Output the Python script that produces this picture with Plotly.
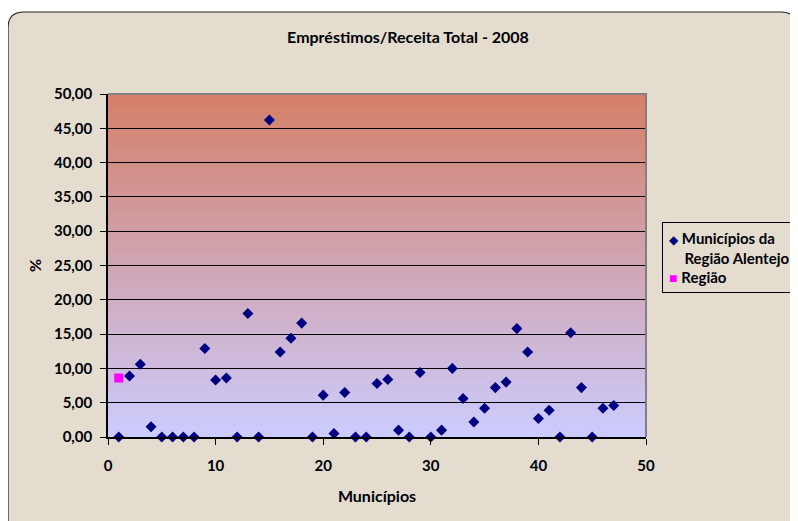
import plotly.graph_objects as go

# Empréstimos / Receita Total (%) por município, 2008
municipios = list(range(1, 48))
valores = [0.0, 8.9, 10.6, 1.5, 0.0, 0.0, 0.0, 0.0, 12.9, 8.3,
           8.6, 0.0, 18.0, 0.0, 46.2, 12.4, 14.4, 16.6, 0.0, 6.1,
           0.5, 6.5, 0.0, 0.0, 7.8, 8.4, 1.0, 0.0, 9.4, 0.0,
           1.0, 10.0, 5.6, 2.2, 4.2, 7.2, 8.0, 15.8, 12.4, 2.7,
           3.9, 0.0, 15.2, 7.2, 0.0, 4.2, 4.6]
regiao_x = [1]
regiao_y = [8.6]

x_ticks = [0, 10, 20, 30, 40, 50]
y_ticks = [0, 5, 10, 15, 20, 25, 30, 35, 40, 45, 50]

FONT = "Lato"
W, H = 798, 521
OFF = 8  # page body margin
# plot area in page pixels: x 108..646, y 94..437
L, T = 108 - OFF, 94 - OFF
PW, PH = 538, 343
R, B = W - L - PW, H - T - PH


def px(x):
    # page pixel -> paper x
    return (x - 108) / PW


def py(y):
    # page pixel -> paper y
    return (437 - y) / PH


fig = go.Figure()

fig.add_trace(go.Scatter(
    x=municipios, y=valores, mode="markers",
    marker=dict(symbol="diamond", size=8.5, color="#000080", line=dict(width=0)),
    name="Municípios da Região Alentejo", showlegend=False, cliponaxis=False))
fig.add_trace(go.Scatter(
    x=regiao_x, y=regiao_y, mode="markers",
    marker=dict(symbol="square", size=9, color="#ff00ff", line=dict(width=0)),
    name="Região", showlegend=False, cliponaxis=False))

shapes = []
# outer rounded frame of the chart
l0, t0, r0, b0 = px(8), py(12), px(797), py(545)
rx, ry = 16 / PW, 16 / PH
shapes.append(dict(
    type="path", xref="paper", yref="paper", layer="below",
    path=(f"M {l0},{b0} L {l0},{t0 - ry} Q {l0},{t0} {l0 + rx},{t0} "
          f"L {r0 - rx},{t0} Q {r0},{t0} {r0},{t0 - ry} L {r0},{b0} Z"),
    fillcolor="#e3dccf", line=dict(color="#222222", width=1.2)))

# vertical gradient of plot area
top_c = (212, 127, 104)
bot_c = (204, 204, 254)
n = 120
for i in range(n):
    f = (i + 0.5) / n
    c = tuple(round(bot_c[k] + (top_c[k] - bot_c[k]) * f) for k in range(3))
    shapes.append(dict(
        type="rect", xref="x domain", yref="y domain", layer="below",
        x0=0, x1=1, y0=i / n, y1=(i + 1) / n + 0.002,
        fillcolor=f"rgb{c}", line=dict(width=0)))

# gray top / right edges of plot area
shapes.append(dict(type="line", xref="x domain", yref="y domain", layer="above",
                   x0=0, x1=1.002, y0=1, y1=1, line=dict(color="#808080", width=2)))
shapes.append(dict(type="line", xref="x domain", yref="y domain", layer="above",
                   x0=1, x1=1, y0=0, y1=1, line=dict(color="#808080", width=2)))

legend_text = ("<span style='color:#000080;font-size:12px'>◆</span> <b>Municípios da</b><br>"
               "\u00a0\u00a0\u00a0\u00a0<b>Região Alentejo</b><br>"
               "<span style='color:#ff00ff;font-size:14px'>■</span> <b>Região</b>")

fig.update_layout(
    width=W, height=H,
    margin=dict(l=L, r=R, t=T, b=B),
    paper_bgcolor="white", plot_bgcolor="rgba(0,0,0,0)",
    separators=",.",
    font=dict(family=FONT, size=15, color="black"),
    showlegend=False,
    title=dict(text="<b>Empréstimos/Receita Total - 2008</b>", xref="container",
               x=(408 - OFF) / W, xanchor="center", yref="container",
               y=1 - (37 - OFF) / H, yanchor="middle",
               font=dict(family=FONT, size=16, color="black")),
    xaxis=dict(range=[0, 50], tickvals=x_ticks, ticktext=[f"<b>{v}</b>" for v in x_ticks],
               showgrid=False, zeroline=False, showline=True, linecolor="black",
               linewidth=1.5, ticks="outside", ticklen=6, tickcolor="black",
               ticklabelstandoff=8, tickfont=dict(size=15),
               title=dict(text="<b>Municípios</b>", standoff=18, font=dict(size=16))),
    yaxis=dict(range=[0, 50], tickvals=y_ticks,
               ticktext=[f"<b>{v:.2f}</b>".replace(".", ",") for v in y_ticks],
               showgrid=True, gridcolor="black", gridwidth=1, zeroline=False,
               showline=True, linecolor="black", linewidth=1.5,
               ticks="outside", ticklen=6, tickcolor="black", ticklabelstandoff=5,
               tickfont=dict(size=15),
               title=dict(text="<b>%</b>", standoff=8, font=dict(size=16))),
    shapes=shapes,
    annotations=[dict(
        text=legend_text, xref="paper", yref="paper", x=px(662), y=py(222),
        xanchor="left", yanchor="top", align="left", showarrow=False,
        font=dict(family=FONT, size=15, color="black"),
        bgcolor="#e3dccf", bordercolor="black", borderwidth=1, borderpad=6)],
)

fig.write_html("out.html")
